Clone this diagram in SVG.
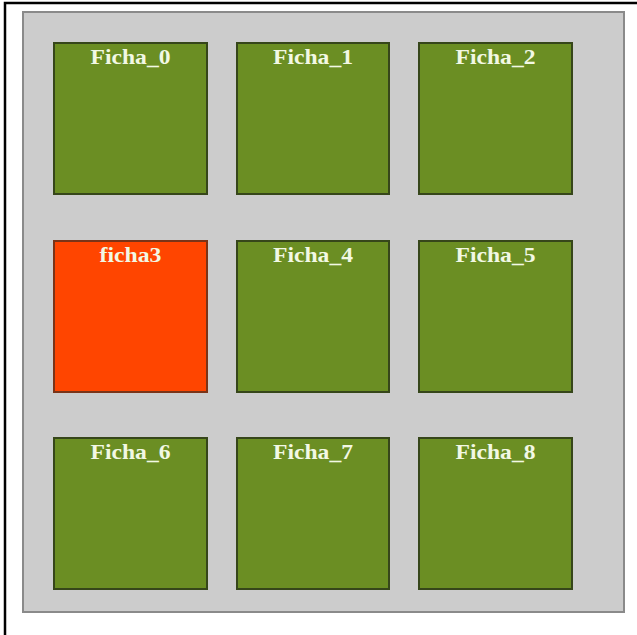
<svg xmlns="http://www.w3.org/2000/svg" width="637" height="635" viewBox="0 0 637 635">
<style>
.frame{fill:#ffffff;stroke:#000000;stroke-width:2.5}
.panel{fill:#cccccc;stroke:#8a8a8a;stroke-width:2}
.tile{fill:#6b8e23;stroke:#36461a;stroke-width:2}
.tile.sel{fill:#ff4500;stroke:#7a3418}
.lbl{font-family:"Liberation Serif","Times New Roman",serif;font-weight:bold;font-size:22px;fill:#f2f8e4;text-anchor:middle}
</style>
<rect x="0" y="0" width="637" height="635" fill="#ffffff"/>
<rect class="frame" x="5" y="3" width="640" height="640"/>
<rect class="panel" x="23" y="12" width="601" height="600"/>
<g id="Ficha_0"><rect class="tile" x="54" y="43" width="153" height="151"/><text class="lbl" x="130.5" y="63.5" textLength="80" lengthAdjust="spacingAndGlyphs">Ficha_0</text></g>
<g id="Ficha_1"><rect class="tile" x="237" y="43" width="152" height="151"/><text class="lbl" x="313" y="63.5" textLength="80" lengthAdjust="spacingAndGlyphs">Ficha_1</text></g>
<g id="Ficha_2"><rect class="tile" x="419" y="43" width="153" height="151"/><text class="lbl" x="495.5" y="63.5" textLength="80" lengthAdjust="spacingAndGlyphs">Ficha_2</text></g>
<g id="ficha3"><rect class="tile sel" x="54" y="241" width="153" height="151"/><text class="lbl" x="130.5" y="261.5" textLength="62" lengthAdjust="spacingAndGlyphs">ficha3</text></g>
<g id="Ficha_4"><rect class="tile" x="237" y="241" width="152" height="151"/><text class="lbl" x="313" y="261.5" textLength="80" lengthAdjust="spacingAndGlyphs">Ficha_4</text></g>
<g id="Ficha_5"><rect class="tile" x="419" y="241" width="153" height="151"/><text class="lbl" x="495.5" y="261.5" textLength="80" lengthAdjust="spacingAndGlyphs">Ficha_5</text></g>
<g id="Ficha_6"><rect class="tile" x="54" y="438" width="153" height="151"/><text class="lbl" x="130.5" y="458.5" textLength="80" lengthAdjust="spacingAndGlyphs">Ficha_6</text></g>
<g id="Ficha_7"><rect class="tile" x="237" y="438" width="152" height="151"/><text class="lbl" x="313" y="458.5" textLength="80" lengthAdjust="spacingAndGlyphs">Ficha_7</text></g>
<g id="Ficha_8"><rect class="tile" x="419" y="438" width="153" height="151"/><text class="lbl" x="495.5" y="458.5" textLength="80" lengthAdjust="spacingAndGlyphs">Ficha_8</text></g>
<g id="connectors"></g>
</svg>
